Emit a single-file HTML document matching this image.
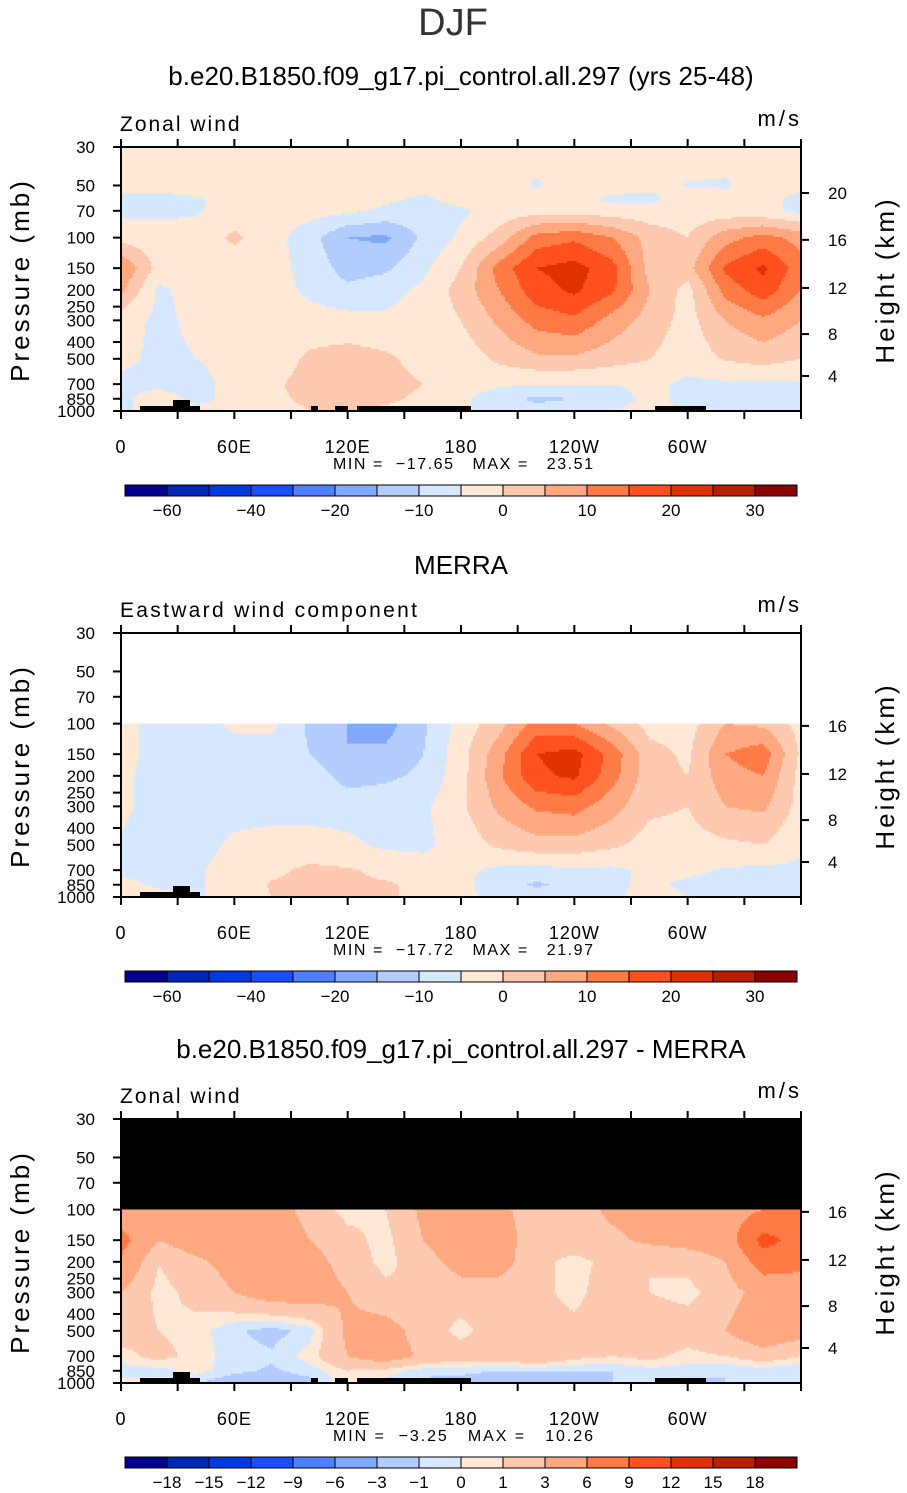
<!DOCTYPE html>
<html><head><meta charset="utf-8"><style>
html,body{margin:0;padding:0;background:#fff;}
svg{display:block;font-family:"Liberation Sans",sans-serif;}
</style></head><body>
<svg id="fig" width="907" height="1493" viewBox="0 0 907 1493" xmlns="http://www.w3.org/2000/svg">
<text x="453" y="35" font-size="38" text-anchor="middle" fill="#333">DJF</text>
<text x="461" y="85" font-size="26" text-anchor="middle">b.e20.B1850.f09_g17.pi_control.all.297 (yrs 25-48)</text>
<text x="461" y="574" font-size="26" text-anchor="middle">MERRA</text>
<text x="461" y="1058" font-size="26" text-anchor="middle">b.e20.B1850.f09_g17.pi_control.all.297 - MERRA</text>
<g id="layer"></g>
</svg>
<script>
// ---- data ----
const lons=[0,20,40,60,80,100,120,140,160,180,200,220,240,260,280,300,320,340,360];
const p1Levels=[30,50,60,70,100,150,200,300,500,700,850,1000];
const p1Values=[
[-3,-3,-3,-3,-3,-3,-3,-3,-3,-3,-3,-3,-3,-3,-3,-3,-3,-3,-3],
[-4,-4,-3,-3,-3,-3,-3,-3,-3,-3,-3,-5.5,-3,-3,-4,-5.2,-5.5,-3,-4],
[-6,-6,-5.5,-3,-3,-3,-3,-4,-6,-3,-3,-3,-3,-6,-6,-3,-3,-4,-6],
[-6.5,-6,-5.5,-3,-3,-3,-4,-6,-7,-6,-3,-2,-2,-3,-3,-3,-3,-4,-6],
[-2,-3,-3,1,-3,-8,-15,-16,-9,-4,2,12,14,10,3,0,8,12,8],
[10,-2,-3,-3,-3,-7,-12,-11,-6,0,12,20,22,17,3,3,16,21,12],
[6,-6,-3,-3,-3,-6,-9,-7,-4,2,10,18,21,16,5,-2,12,18,10],
[-3,-6,-4,-3,-3,-3,-3,-4,-3,0,6,12,14,8,3,-2,5,9,5],
[-4,-6,-5,-3,-3,1,2,1,-2,-3,1,4,4,2,0,-3,0.5,2,0],
[-6,-6,-7,-3,-1,2,4,2,0,-3,-4,-5,-5,-5,-4,-6,-6,-6,-6],
[-6,-3,-6,-4,-1,1,2,1,-1,-4,-8,-11,-10,-7,-4,-6,-6,-6,-6],
[-6,-3,-4,-3,-2,0,1,-1,-2,-4,-7,-8,-7,-5,-3,-6,-6,-6,-6]];
const p2Levels=[100,150,200,300,500,700,850,1000];
const p2Values=[
[-3,-7,-7,-4,-4,-11,-15,-17,-11,-3,3,12,10,4,-2,-2,5,4,-2],
[-3,-7,-7,-7,-7,-10,-15,-14,-10,-2,8,20,22,13,2,-1,10,13,-1],
[-4,-7,-7,-7,-7,-7,-12,-11,-9,-2,9,19,21,12,2,0,8,10,-2],
[-4,-7,-7,-7,-7,-7,-7,-7,-6,-1,6,11,12,7,1,0,5,6,-2],
[-5.5,-7,-7,-4,-3,-3,-4,-6,-6,-3,1,3,3,1,-2,-2,-1,0,-4],
[-6,-6,-5.5,-3,-1,1,0.5,-1,-3,-4,-6,-6.5,-6,-6,-4,-4,-5.5,-6,-6],
[-4,-5.5,-5.5,-3,0.5,1,0.5,0.5,-1,-4,-7,-11,-8,-6,-4,-6,-6,-6,-5],
[-3,-4,-5.5,-3,0,1,0.5,0.5,-1,-4,-6,-7,-6,-6,-3,-5,-6,-6,-5]];
const p3Levels=[100,150,200,300,500,700,850,1000];
const p3Values=[
[4.5,4,4,4.5,4.5,2,0.5,1,3.5,4,3.5,2,2,3.5,4,4.5,4.5,6,6],
[7,3,4.5,4.5,5,3,1.5,0.5,3,5,4,2,2,2.5,3.5,4,4.5,10,8],
[5.5,1,2.5,4,4.5,4,2,0.5,2,4,4,1.5,0.5,1.5,1,1.5,3,7.5,7],
[3,0.5,1.5,3,4.5,4.5,3,1.5,1,2,2,1.5,0.5,2,1,0.5,2,4,4],
[2,1,0.5,-0.8,-1.5,-0.5,3.5,4,2,0.5,2,1.5,1.5,2,2,2,3,5,4],
[0.5,1.5,0.5,-0.5,-0.8,0.5,3,4.5,2.5,2,2,3,1.5,1,1.5,0.5,1,2,1],
[-0.5,-0.5,0.5,-0.7,-1.2,-0.5,1,0.5,-0.5,-0.7,-1,-1,-1,-1,-0.5,-0.5,-1,-0.5,-1],
[0.5,0.5,-1,-2,-2,-1.5,0.5,-0.5,-1.5,-1.5,-2,-2,-1.5,-1,0,-1.5,-1,-1,-1]];
const windLevels=[-60,-50,-40,-30,-20,-15,-10,-5,0,5,10,15,20,25,30];
const windLabels=["\u221260","\u221240","\u221220","\u221210","0","10","20","30"];
const windLabelLevels=[-60,-40,-20,-10,0,10,20,30];
const diffLevels=[-18,-15,-12,-9,-6,-3,-1,0,1,3,6,9,12,15,18];
const diffLabels=["\u221218","\u221215","\u221212","\u22129","\u22126","\u22123","\u22121","0","1","3","6","9","12","15","18"];
const palette=["#00008c","#0026b4","#0039e0","#1a4dff","#4d7fff","#80a8ff","#b3ccff","#d6e8ff","#ffe8d6","#ffc9b0","#ffa880","#ff7a45","#ff501e","#e03200","#b81e00","#8b0000"];
const pressTicks=[30,50,70,100,150,200,250,300,400,500,700,850,1000];
const heightTicks=[20,16,12,8,4];
const heightTickPressures=[55.3,103,195,360,628];
const lonTickLabels=["0","60E","120E","180","120W","60W"];
const lonTickVals=[0,60,120,180,240,300];
const minMax=[["\u221217.65","23.51"],["\u221217.72","21.97"],["\u22123.25","10.26"]];

// ---- layout ----
const NS="http://www.w3.org/2000/svg";
const layer=document.getElementById('layer');
const X0=121,X1=801,PH=264;
function xOf(lon){return X0+(X1-X0)*lon/360;}
function yOf(top,p){return top+PH*Math.log(p/30)/Math.log(1000/30);}
function pOf(top,y){return 30*Math.exp((y-top)/PH*Math.log(1000/30));}
function mk(tag,attrs,parent){const e=document.createElementNS(NS,tag);for(const k in attrs)e.setAttribute(k,attrs[k]);(parent||layer).appendChild(e);return e;}
function txt(x,y,s,size,anchor,parent){const t=mk('text',{x:x,y:y,'font-size':size,'text-anchor':anchor||'middle'},parent);t.textContent=s;return t;}
function interp(levels,vals,lon,p){
  const lp=Math.log(p);let i=0;
  while(i<levels.length-2&&Math.log(levels[i+1])<lp)i++;
  let t=(lp-Math.log(levels[i]))/(Math.log(levels[i+1])-Math.log(levels[i]));
  t=Math.max(0,Math.min(1,t));
  let j=Math.min(lons.length-2,Math.floor(lon/20));
  const u=(lon-lons[j])/(lons[j+1]-lons[j]);
  const a=vals[i][j]*(1-u)+vals[i][j+1]*u, b=vals[i+1][j]*(1-u)+vals[i+1][j+1]*u;
  return a*(1-t)+b*t;
}
function colorIdx(v,lv){let k=0;while(k<lv.length&&v>=lv[k])k++;return k;}

function panel(top,levels,vals,lv,pmin,info){
  const g=mk('g',{});
  
  
  const yStart=yOf(top,pmin);
  if(pmin>30 && info.blackTop){
    const r=mk('rect',{x:X0,y:top,width:X1-X0,height:yStart-top,fill:'#000'},g);
    
    
  }
  const step=2;
  for(let y=yStart;y<top+PH;y+=step){
    const h=Math.min(step,top+PH-y);
    const p=pOf(top,y+h/2);
    let runStart=X0,runC=-1;
    for(let x=X0;x<=X1;x+=step){
      let c=-2;
      if(x<X1){const lon=(x+step/2-X0)/(X1-X0)*360;c=colorIdx(interp(levels,vals,lon,p),lv);}
      if(c!==runC){
        if(runC>=0){
          const r=mk('rect',{x:runStart,y:y,width:Math.min(x,X1)-runStart,height:h+0.3,fill:palette[runC]},g);
          
          
        }
        runStart=x;runC=c;
      }
    }
  }
  const topo=[[140,200,5],[173,190,11],[311,318,5],[335,348,5],[357,471,5],[655,706,5]];
  topo.forEach(t=>{
    if(info.topoSmall && t[0]>200) return;
    const r=mk('rect',{x:t[0],y:top+PH-t[2],width:t[1]-t[0],height:t[2],fill:'#000'},g);
    
    
  });
  const f=mk('rect',{x:X0,y:top,width:X1-X0,height:PH,fill:'none',stroke:'#000','stroke-width':2},g);
  
  
  for(let l=0;l<=360;l+=30){
    const x=xOf(l);
    mk('line',{x1:x,x2:x,y1:top,y2:top-8,stroke:'#000','stroke-width':2},g);
    mk('line',{x1:x,x2:x,y1:top+PH,y2:top+PH+8,stroke:'#000','stroke-width':2},g);
  }
  lonTickVals.forEach((l,i)=>{
    const t=txt(xOf(l),top+PH+42,lonTickLabels[i],18,'middle',g);
    t.setAttribute('letter-spacing','1');
    
    
  });
  pressTicks.forEach(p=>{
    const y=yOf(top,p);
    mk('line',{x1:X0,x2:X0-8,y1:y,y2:y,stroke:'#000','stroke-width':2},g);
    const t=txt(95,y+6,String(p),17,'end',g);
    
    
  });
  heightTicks.forEach((h,i)=>{
    const p=heightTickPressures[i];if(p<pmin-1)return;
    const y=yOf(top,p);
    mk('line',{x1:X1,x2:X1+8,y1:y,y2:y,stroke:'#000','stroke-width':2},g);
    const t=txt(828,y+6,String(h),17,'start',g);
    
    
  });
  const yt=txt(0,0,'Pressure (mb)',26,'middle',g);
  yt.setAttribute('transform','translate(29,'+(top+133)+') rotate(-90)');
  yt.setAttribute('letter-spacing','3');
  
  
  const ht=txt(0,0,'Height (km)',26,'middle',g);
  ht.setAttribute('transform','translate(894,'+(top+133)+') rotate(-90)');
  ht.setAttribute('letter-spacing','3');
  
  
  const lt=txt(120,top-16,info.left,21,'start',g);
  lt.setAttribute('letter-spacing',info.ls);
  
  
  const ut=txt(802,top-21,'m/s',22,'end',g);
  ut.setAttribute('letter-spacing','3');
  
  
  const mm=txt(333,top+PH+58,'MIN =  '+info.mm[0]+'   MAX =   '+info.mm[1],16,'start',g);
  mm.setAttribute('style','white-space:pre');
  mm.setAttribute('textLength','260');
  mm.setAttribute('lengthAdjust','spacing');
  
  
  const cy=top+338;
  const cb=mk('g',{},g);
  
  
  for(let k=0;k<16;k++){
    const r=mk('rect',{x:125+42*k,y:cy,width:42,height:11,fill:palette[k],stroke:'#000','stroke-width':1},cb);
    
    
  }
  info.cbLabels.forEach((s,i)=>{
    const k=lv.indexOf(info.cbVals[i]);
    const t=txt(125+42*(k+1),cy+31,s,17,'middle',cb);
    
    
  });
}
panel(147,p1Levels,p1Values,windLevels,30,{name:'panel-model',left:'Zonal wind',ls:'2',mm:minMax[0],cbLabels:windLabels,cbVals:windLabelLevels});
panel(633,p2Levels,p2Values,windLevels,100,{name:'panel-merra',left:'Eastward wind component',ls:'2.3',mm:minMax[1],cbLabels:windLabels,cbVals:windLabelLevels,topoSmall:true});
panel(1119,p3Levels,p3Values,diffLevels,100,{name:'panel-difference',left:'Zonal wind',ls:'2',mm:minMax[2],cbLabels:diffLabels,cbVals:diffLevels,blackTop:true});
</script>
</body></html>
